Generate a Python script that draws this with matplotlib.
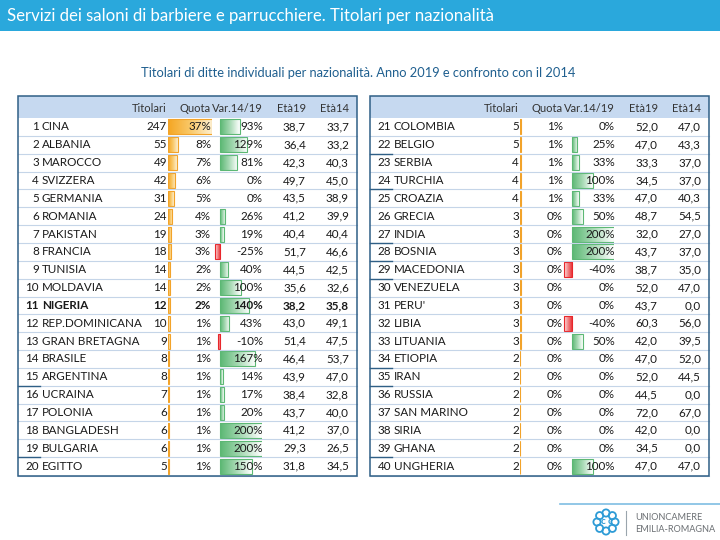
import numpy as np
import matplotlib.pyplot as plt
from matplotlib.colors import LinearSegmentedColormap
from matplotlib.patches import Rectangle, Circle

# ---- data -------------------------------------------------------------
names_a = ["CINA", "ALBANIA", "MAROCCO", "SVIZZERA", "GERMANIA", "ROMANIA",
           "PAKISTAN", "FRANCIA", "TUNISIA", "MOLDAVIA", "NIGERIA",
           "REP.DOMINICANA", "GRAN BRETAGNA", "BRASILE", "ARGENTINA",
           "UCRAINA", "POLONIA", "BANGLADESH", "BULGARIA", "EGITTO"]
titolari_a = [247, 55, 49, 42, 31, 24, 19, 18, 14, 14, 12, 10, 9, 8, 8, 7, 6, 6, 6, 5]
quota_a = [37, 8, 7, 6, 5, 4, 3, 3, 2, 2, 2, 1, 1, 1, 1, 1, 1, 1, 1, 1]
var_a = [93, 129, 81, 0, 0, 26, 19, -25, 40, 100, 140, 43, -10, 167, 14, 17, 20, 200, 200, 150]
eta19_a = [38.7, 36.4, 42.3, 49.7, 43.5, 41.2, 40.4, 51.7, 44.5, 35.6, 38.2, 43.0, 51.4,
           46.4, 43.9, 38.4, 43.7, 41.2, 29.3, 31.8]
eta14_a = [33.7, 33.2, 40.3, 45.0, 38.9, 39.9, 40.4, 46.6, 42.5, 32.6, 35.8, 49.1, 47.5,
           53.7, 47.0, 32.8, 40.0, 37.0, 26.5, 34.5]

names_b = ["COLOMBIA", "BELGIO", "SERBIA", "TURCHIA", "CROAZIA", "GRECIA", "INDIA",
           "BOSNIA", "MACEDONIA", "VENEZUELA", "PERU'", "LIBIA", "LITUANIA", "ETIOPIA",
           "IRAN", "RUSSIA", "SAN MARINO", "SIRIA", "GHANA", "UNGHERIA"]
titolari_b = [5, 5, 4, 4, 4, 3, 3, 3, 3, 3, 3, 3, 3, 2, 2, 2, 2, 2, 2, 2]
quota_b = [1, 1, 1, 1, 1, 0, 0, 0, 0, 0, 0, 0, 0, 0, 0, 0, 0, 0, 0, 0]
var_b = [0, 25, 33, 100, 33, 50, 200, 200, -40, 0, 0, -40, 50, 0, 0, 0, 0, 0, 0, 100]
eta19_b = [52.0, 47.0, 33.3, 34.5, 47.0, 48.7, 32.0, 43.7, 38.7, 52.0, 43.7, 60.3, 42.0,
           47.0, 52.0, 44.5, 72.0, 42.0, 34.5, 47.0]
eta14_b = [47.0, 43.3, 37.0, 37.0, 40.3, 54.5, 27.0, 37.0, 35.0, 47.0, 0.0, 56.0, 39.5,
           52.0, 44.5, 0.0, 67.0, 0.0, 0.0, 47.0]

headers = ["Titolari", "Quota", "Var.14/19", "Età19", "Età14"]
title = "Servizi dei saloni di barbiere e parrucchiere. Titolari per nazionalità"
subtitle = "Titolari di ditte individuali per nazionalità. Anno 2019 e confronto con il 2014"

# ---- style ------------------------------------------------------------
FONT = "Lato"
FS = 8.4
W, H = 720, 540
ROW0, PITCH, NROWS = 118.0, 17.85, 20
BLUE = "#2aa8dc"
FRAME = "#2f5f86"
GRID = "#c5d5e8"

orange_cm = LinearSegmentedColormap.from_list("o", ["#f5a623", "#f9c868", "#fdefcf"])
green_cm = LinearSegmentedColormap.from_list("g", ["#5cb874", "#a6d9b3", "#ffffff"])
red_cm = LinearSegmentedColormap.from_list("r", ["#fde2e2", "#f07c7e", "#e8262b"])

fig = plt.figure(figsize=(7.2, 5.4), dpi=100)
ax = fig.add_axes([0, 0, 1, 1])
ax.set_xlim(0, W)
ax.set_ylim(H, 0)
ax.axis("off")
ax.set_zorder(5)
ax.patch.set_alpha(0)


def px_axes(x0, x1, y0, y1):
    return fig.add_axes([x0 / W, 1 - y1 / H, (x1 - x0) / W, (y1 - y0) / H])


def row_y(i):
    return ROW0 + (i + 0.5) * PITCH


def data_bars(x0, x1, lo, hi, values, cmap_pos, edge_pos, cmap_neg=None, edge_neg=None):
    bax = px_axes(x0, x1, ROW0, ROW0 + NROWS * PITCH)
    bax.set_zorder(1)
    bax.axis("off")
    bax.patch.set_alpha(0)
    grad = np.linspace(0, 1, 64).reshape(1, -1)
    for i, v in enumerate(values):
        if v == 0:
            continue
        neg = v < 0
        edge = edge_neg if neg else edge_pos
        cmap = cmap_neg if neg else cmap_pos
        bar = bax.barh(i, v, height=0.84, color="none", edgecolor=edge,
                       linewidth=0.8, zorder=3)[0]
        a, b = min(0, v), max(0, v)
        img = bax.imshow(grad, cmap=cmap, extent=(a, b, i + 0.42, i - 0.42),
                         aspect="auto", zorder=2, interpolation="bilinear")
        img.set_clip_path(bar)
    bax.set_xlim(lo, hi)
    bax.set_ylim(NROWS - 0.5, -0.5)


def draw_table(left, names, start, titolari, quota, var, eta19, eta14, dark_after):
    right = left + 339
    top, bottom = 95.5, ROW0 + NROWS * PITCH + 1
    cols = [left + 149, left + 193, left + 245, left + 288, left + 331]
    ax.add_patch(Rectangle((left, top), right - left, 22, facecolor="#c6d9f0",
                           edgecolor="none", zorder=1))
    for c, h in zip(cols, headers):
        ax.text(c, top + 13, h, ha="right", va="center", fontsize=8.0,
                family=FONT, color="#333333")
    for i in range(1, NROWS):
        y = ROW0 + i * PITCH
        ax.plot([left, right], [y, y], color=GRID, lw=0.8, zorder=1)
        if i - 1 in dark_after:
            ax.plot([left, left + 22], [y, y], color=FRAME, lw=1.0, zorder=2)
    ax.plot([left, right], [bottom, bottom], color=GRID, lw=0.8, zorder=1)
    ax.add_patch(Rectangle((left, top), right - left, bottom - top, facecolor="none",
                           edgecolor=FRAME, lw=1.1, zorder=5))
    clip = Rectangle((left, top), 112, bottom - top, transform=ax.transData)
    for i in range(NROWS):
        y = row_y(i)
        wt = "bold" if (start == 1 and i == 10) else "normal"
        kw = dict(va="center", fontsize=FS, family=FONT, color="#1a1a1a", fontweight=wt)
        ax.text(left + 21, y, str(start + i), ha="right", **kw)
        t = ax.text(left + 24, y, names[i], ha="left", **kw)
        t.set_clip_path(clip)
        ax.text(cols[0], y, str(titolari[i]), ha="right", **kw)
        ax.text(cols[1], y, f"{quota[i]}%", ha="right", **kw)
        ax.text(cols[2], y, f"{var[i]}%", ha="right", **kw)
        ax.text(cols[3], y, f"{eta19[i]:.1f}".replace(".", ","), ha="right", **kw)
        ax.text(cols[4], y, f"{eta14[i]:.1f}".replace(".", ","), ha="right", **kw)
    # titolari data bars (0..247 over 44 px) and variation bars (0.21 px per %)
    data_bars(left + 150, left + 194, 0, 247, titolari, orange_cm, "#f2a32a")
    data_bars(left + 191.5, left + 244, -50, 200, var, green_cm, "#5cb874",
              red_cm, "#e8262b")


# title bar
ax.add_patch(Rectangle((0, 0), W, 31, facecolor=BLUE, edgecolor="none"))
ax.text(7, 16, title, ha="left", va="center", fontsize=12.1, family=FONT, color="white")
ax.text(358, 73, subtitle, ha="center", va="center", fontsize=9.3, family=FONT,
        color="#1f5f8f")

draw_table(18, names_a, 1, titolari_a, quota_a, var_a, eta19_a, eta14_a, [14, 18])
draw_table(370, names_b, 21, titolari_b, quota_b, var_b, eta19_b, eta14_b,
           [1, 3, 6, 7, 8, 13, 14, 18])

# logo
ax.plot([560, 720], [504, 504], color="#7fbde3", lw=1.2)
cx, cy = 606, 522
for k in range(8):
    ang = np.pi / 4 * k
    ax.add_patch(Circle((cx + 9 * np.cos(ang), cy + 9 * np.sin(ang)), 3.6,
                        facecolor="none", edgecolor="#2d9bd6", lw=1.3))
ax.text(cx - 3, cy, "c", ha="center", va="center", fontsize=7, color="#2d9bd6",
        family=FONT, fontweight="bold")
ax.text(cx + 4, cy, "c", ha="center", va="center", fontsize=7, color="#2d9bd6",
        family=FONT, fontweight="bold")
ax.plot([626, 626], [511, 535], color="#9aa5ad", lw=0.8)
ax.text(635, 518, "UNIONCAMERE", ha="left", va="center", fontsize=6.6,
        family=FONT, color="#6b6f73")
ax.text(635, 530, "EMILIA-ROMAGNA", ha="left", va="center", fontsize=6.6,
        family=FONT, color="#6b6f73")

fig.savefig("out.png", dpi=100)
